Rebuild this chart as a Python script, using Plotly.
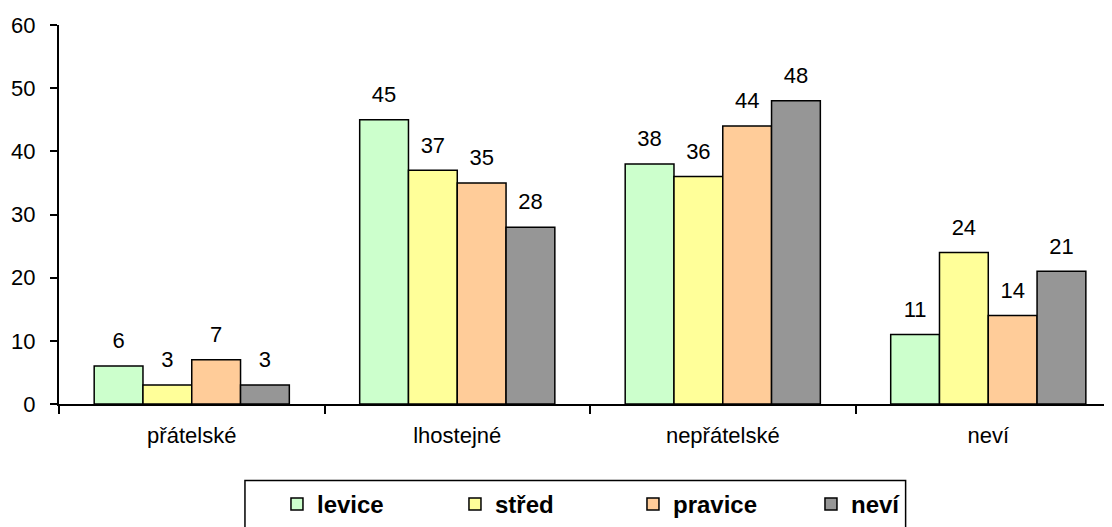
import plotly.graph_objects as go

categories = ["přátelské", "lhostejné", "nepřátelské", "neví"]
series_names = ["levice", "střed", "pravice", "neví"]
levice = [6, 45, 38, 11]
stred = [3, 37, 36, 24]
pravice = [7, 35, 44, 14]
nevi = [3, 28, 48, 21]
colors = ["#CCFFCC", "#FFFF99", "#FFCC99", "#969696"]

FONT = "Liberation Sans"

fig = go.Figure()
for name, vals, col in zip(series_names, [levice, stred, pravice, nevi], colors):
    fig.add_trace(go.Bar(
        x=categories, y=vals, name=name,
        marker=dict(color=col, line=dict(color="black", width=1.5)),
    ))

# value labels, grouped the same way as the bars
for name, vals in zip(series_names, [levice, stred, pravice, nevi]):
    fig.add_trace(go.Scatter(
        x=categories, y=vals, mode="markers+text", text=vals,
        textposition="top center", showlegend=False, hoverinfo="skip",
        marker=dict(size=18, color="rgba(0,0,0,0)"),
        textfont=dict(size=22, color="black", family=FONT),
        cliponaxis=False,
    ))

# page body adds 8px offset, so the figure is a bit smaller than the window
fig.update_layout(
    width=1104, height=519,
    margin=dict(l=51, r=0, t=17, b=121),
    paper_bgcolor="white", plot_bgcolor="white",
    barmode="group", bargap=0.265, bargroupgap=0,
    scattermode="group", scattergap=0.265,
    font=dict(family=FONT, size=22, color="black"),
    showlegend=True,
    legend=dict(
        orientation="h", x=0.207, xanchor="left", y=-0.265, yanchor="middle",
        borderwidth=0, entrywidth=133, itemwidth=30,
        font=dict(size=24, family=FONT, weight="bold"),
        traceorder="normal", bgcolor="rgba(0,0,0,0)",
    ),
    shapes=[dict(
        type="rect", xref="paper", yref="paper",
        x0=0.1766, x1=0.804, y0=-0.202, y1=-0.5,
        line=dict(color="black", width=1.5), fillcolor="rgba(0,0,0,0)",
    )],
    xaxis=dict(
        range=[-0.5, 3.466], showline=True, linecolor="black", linewidth=2,
        ticks="outside", tickson="boundaries", ticklen=8, tickwidth=2,
        tickcolor="black", showgrid=False, tickfont=dict(size=22),
        automargin=False, ticklabelstandoff=11,
    ),
    yaxis=dict(
        range=[0, 60], dtick=10, showline=True, linecolor="black", linewidth=2,
        ticks="outside", ticklen=7, tickwidth=2, tickcolor="black",
        showgrid=False, zeroline=False, tickfont=dict(size=22),
        automargin=False, ticklabelstandoff=10,
    ),
)

fig.write_html("out.html")
